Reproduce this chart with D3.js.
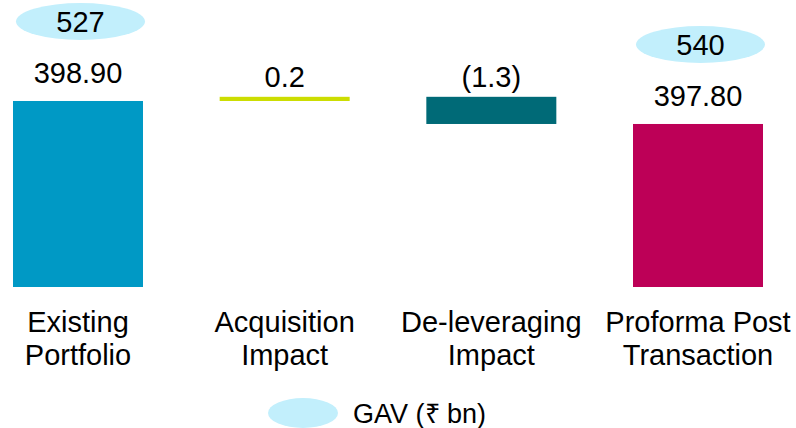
<!DOCTYPE html>
<html>
<head>
<meta charset="utf-8">
<script src="https://cdn.jsdelivr.net/npm/d3@7"></script>
<style>
  body { margin: 0; background: #fff; }
  text { font-family: "Liberation Sans", Arial, sans-serif; fill: #000; }
</style>
</head>
<body>
<script>
// waterfall data, GAV bubbles on the two totals
var categories = [["Existing", "Portfolio"], ["Acquisition", "Impact"], ["De-leveraging", "Impact"], ["Proforma Post", "Transaction"]];
var steps = [398.90, 0.2, -1.3, 397.80];
var kinds = ["total", "delta", "delta", "total"];
var valueLabels = ["398.90", "0.2", "(1.3)", "397.80"];
var gav = [527, null, null, 540];
var colors = ["#0099c5", "#ccdd00", "#006a77", "#bd0057"];
var legendLabel = "GAV (\u20b9 bn)";

var width = 796, height = 428;

var svg = d3.select("body").append("svg")
  .attr("width", width)
  .attr("height", height);

// column centres
var x = d3.scalePoint()
  .domain(d3.range(categories.length))
  .range([78, 698]);

// axis is broken: starts at 390 like the original slide
var y = d3.scaleLinear().domain([390, 400]).range([287, 78]);

// running totals for the waterfall
var bars = [];
var running = 0;
steps.forEach(function(v, i) {
  var lo, hi;
  if (kinds[i] == "total") { lo = 390; hi = v; running = v; }
  else { lo = running; hi = running + v; running = hi; }
  bars.push({ i: i, lo: Math.min(lo, hi), hi: Math.max(lo, hi), kind: kinds[i] });
});

var bw = 130;

svg.selectAll("rect.bar")
  .data(bars)
  .enter().append("rect")
  .attr("class", "bar")
  .attr("x", function(d) { return x(d.i) - bw / 2; })
  .attr("y", function(d) { return y(d.hi); })
  .attr("width", bw)
  .attr("height", function(d) { return y(d.lo) - y(d.hi); })
  .attr("fill", function(d) { return colors[d.i]; });

// value labels
svg.selectAll("text.val")
  .data(bars)
  .enter().append("text")
  .attr("class", "val")
  .attr("x", function(d) { return x(d.i); })
  .attr("y", function(d) { return y(d.hi) - (d.kind == "total" ? 18 : 10); })
  .attr("text-anchor", "middle")
  .style("font-size", "29px")
  .text(function(d) { return valueLabels[d.i]; });

// GAV bubbles
var bubbles = gav.map(function(g, i) { return { i: i, g: g }; }).filter(function(d) { return d.g != null; });

var bub = svg.selectAll("g.gav")
  .data(bubbles)
  .enter().append("g")
  .attr("class", "gav")
  .attr("transform", function(d) {
    var top = y(steps[d.i]);
    return "translate(" + (x(d.i) + 2.5) + "," + (top - 79.5) + ")";
  });

bub.append("ellipse")
  .attr("rx", 64.5)
  .attr("ry", 18.5)
  .attr("fill", "#c2effc");

bub.append("text")
  .attr("text-anchor", "middle")
  .attr("y", 10.5)
  .style("font-size", "29px")
  .text(function(d) { return d.g; });

// category labels
var cat = svg.selectAll("text.cat")
  .data(categories)
  .enter().append("text")
  .attr("class", "cat")
  .attr("text-anchor", "middle")
  .attr("x", function(d, i) { return x(i); })
  .attr("y", 332)
  .style("font-size", "29px");

cat.selectAll("tspan")
  .data(function(d) { return d; })
  .enter().append("tspan")
  .attr("x", function() { return d3.select(this.parentNode).attr("x"); })
  .attr("dy", function(d, j) { return j == 0 ? 0 : 32.5; })
  .text(function(d) { return d; });

// legend
var legend = svg.append("g").attr("transform", "translate(303,413)");
legend.append("ellipse").attr("rx", 35).attr("ry", 15).attr("fill", "#c2effc");
legend.append("text")
  .attr("x", 50)
  .attr("y", 10)
  .style("font-size", "27px")
  .text(legendLabel);
</script>
</body>
</html>
